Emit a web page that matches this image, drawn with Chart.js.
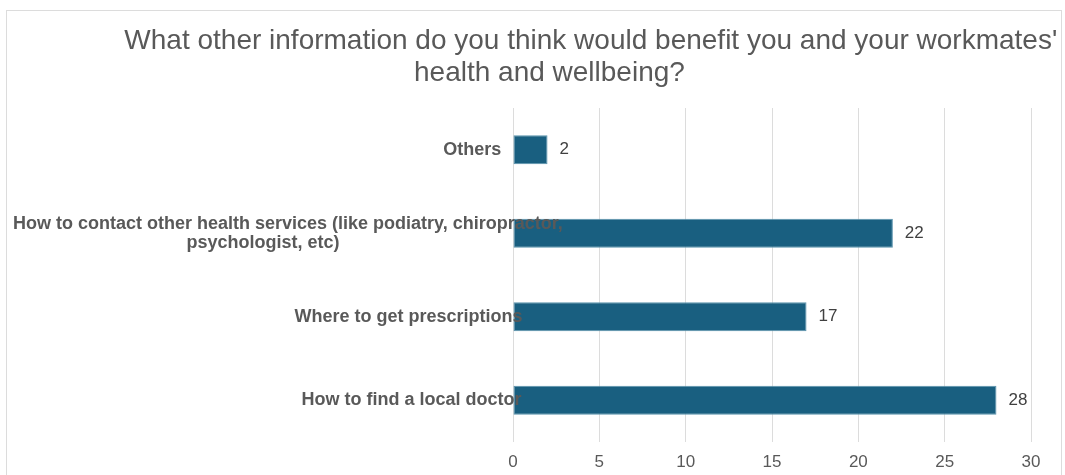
<!DOCTYPE html>
<html>
<head>
<meta charset="utf-8">
<title>Workplace health information</title>
<script src="https://cdn.jsdelivr.net/npm/chart.js@4"></script>
<style>
  body { margin: 0; background: #fff; }
  #wrap { position: relative; width: 1065px; height: 475px; overflow: hidden; }
  #frame {
    position: absolute; left: 6px; top: 10px; width: 1056px; height: 480px;
    border: 1px solid #dcdcdc; box-sizing: border-box;
  }
  #chart { position: absolute; left: 0; top: 0; }
</style>
</head>
<body>
<div id="wrap">
  <div id="frame"></div>
  <canvas id="chart" width="1065" height="475"></canvas>
</div>
<script>
const titleLines = [
  "What other information do you think would benefit you and your workmates'",
  "health and wellbeing?",
];
const categories = [
  ["Others"],
  ["How to contact other health services (like podiatry, chiropractor,", "psychologist, etc)"],
  ["Where to get prescriptions"],
  ["How to find a local doctor"],
];
const responses = [2, 22, 17, 28];
const axisMin = 0;
const axisMax = 30;
const axisStep = 5;

const FONT = "'Liberation Sans', Arial, Helvetica, sans-serif";
// text blocks are laid out on a narrower measure than they are painted with,
// so long lines run on past the edge of their box
const LAYOUT_SCALE = 0.875;

const drawBlock = (ctx, lines, anchorX, midY, lineHeight, anchor) => {
  const widths = lines.map((l) => ctx.measureText(l).width * LAYOUT_SCALE);
  const blockW = Math.max(...widths);
  const left = anchor === "right" ? anchorX - blockW : anchorX - blockW / 2;
  lines.forEach((line, i) => {
    const x = left + (blockW - widths[i]) / 2;
    const y = midY + (i - (lines.length - 1) / 2) * lineHeight;
    ctx.fillText(line, x, y);
  });
};

// title, category names and bar values
const textPlugin = {
  id: "texts",
  afterDatasetsDraw(chart) {
    const ctx = chart.ctx;
    const area = chart.chartArea;
    const yScale = chart.scales.y;
    ctx.save();
    ctx.textAlign = "left";

    ctx.fillStyle = "#595959";
    ctx.font = "28px " + FONT;
    ctx.textBaseline = "alphabetic";
    drawBlock(ctx, titleLines, chart.width / 2, 65, 32, "center");

    ctx.font = "bold 18px " + FONT;
    ctx.textBaseline = "middle";
    categories.forEach((lines, i) => {
      drawBlock(ctx, lines, area.left - 19, yScale.getPixelForValue(i), 19, "right");
    });

    ctx.fillStyle = "#404040";
    ctx.font = "17px " + FONT;
    chart.getDatasetMeta(0).data.forEach((bar, i) => {
      ctx.fillText(String(responses[i]), bar.x + 12, bar.y);
    });
    ctx.restore();
  },
};

const chartInfo = document.getElementById("chart");
new Chart(chartInfo, {
  type: "bar",
  data: {
    labels: categories.map((c) => c.join(" ")),
    datasets: [
      {
        data: responses,
        backgroundColor: "#195f80",
        borderColor: "#5a93ad",
        borderWidth: 1,
        borderSkipped: false,
        categoryPercentage: 1,
        barPercentage: 0.35,
      },
    ],
  },
  plugins: [textPlugin],
  options: {
    indexAxis: "y",
    responsive: false,
    animation: false,
    devicePixelRatio: 1,
    layout: { padding: { left: 513, right: 34, top: 108, bottom: 3 } },
    plugins: {
      legend: { display: false },
      tooltip: { enabled: false },
    },
    scales: {
      x: {
        min: axisMin,
        max: axisMax,
        afterFit: (scale) => {
          scale.height = 30;
        },
        ticks: {
          stepSize: axisStep,
          padding: 10,
          color: "#595959",
          font: { family: FONT, size: 17 },
        },
        grid: { color: "#dcdcdc", drawTicks: false },
        border: { display: false },
      },
      y: {
        display: false,
      },
    },
  },
});
</script>
</body>
</html>
